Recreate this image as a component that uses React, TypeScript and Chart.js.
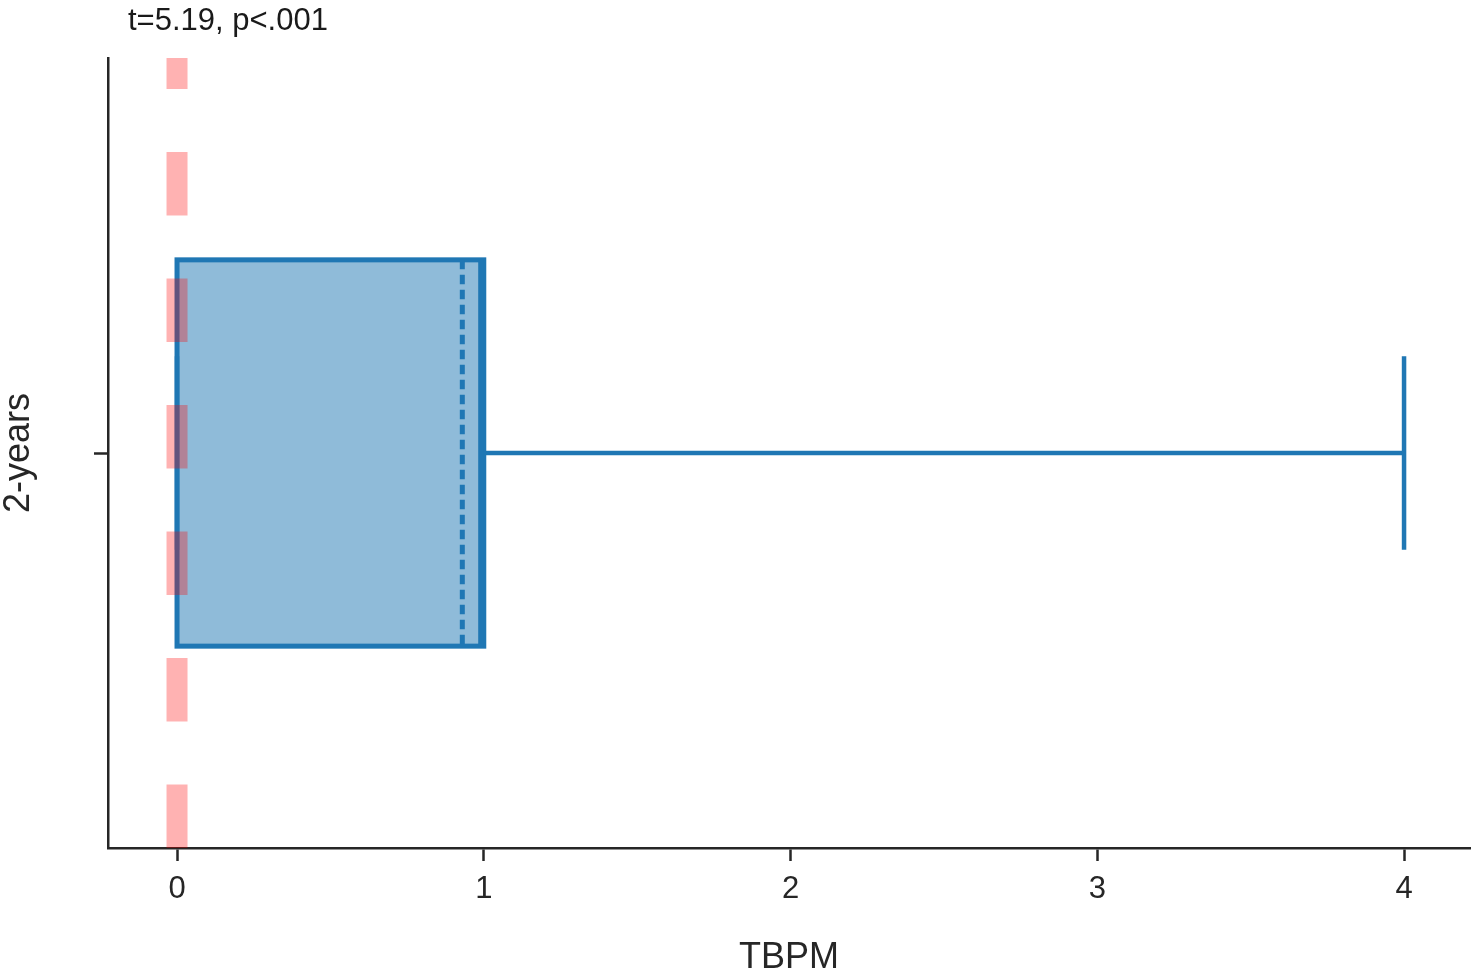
import React, { useEffect, useRef } from "react";
import { Chart, registerables } from "chart.js";

Chart.register(...registerables);

// ---- data ----
const categories = ["2-years"];
const q1Values = [0];
const q3Values = [1];
const medianValues = [0.99];
const meanValues = [0.93];
const whiskerLowValues = [0];
const whiskerHighValues = [4];
const referenceValue = 0;
const xTickValues = [0, 1, 2, 3, 4];
const xAxisLabel = "TBPM";
const yAxisLabel = "2-years";
const statsText = "t=5.19, p<.001";

const BLUE = "#1f77b4";
const FILL = "rgba(31,119,180,0.5)";
const PINK = "rgba(255,0,0,0.3)";
const AXIS = "#262626";
const FONT = "'Liberation Sans', Arial, Helvetica, sans-serif";
const BOX_FRACTION = 0.489;
const CAP_FRACTION = 0.245;

const boxPlugin = {
  id: "boxExtras",
  afterDatasetsDraw(chart: any) {
    const ctx = chart.ctx;
    const xs = chart.scales.x;
    const ys = chart.scales.y;
    const area = chart.chartArea;
    const band = (area.bottom - area.top) / categories.length;
    ctx.save();
    categories.forEach((_, i) => {
      const cy = ys.getPixelForValue(i);
      const half = (band * BOX_FRACTION) / 2;
      const capHalf = (band * CAP_FRACTION) / 2;
      const xq1 = xs.getPixelForValue(q1Values[i]);
      const xq3 = xs.getPixelForValue(q3Values[i]);
      const xlo = xs.getPixelForValue(whiskerLowValues[i]);
      const xhi = xs.getPixelForValue(whiskerHighValues[i]);
      const xmed = xs.getPixelForValue(medianValues[i]);
      const xmean = xs.getPixelForValue(meanValues[i]);
      ctx.strokeStyle = BLUE;
      ctx.lineCap = "butt";
      // whiskers
      ctx.lineWidth = 4.5;
      ctx.beginPath();
      ctx.moveTo(xq3, cy);
      ctx.lineTo(xhi, cy);
      ctx.moveTo(xq1, cy);
      ctx.lineTo(xlo, cy);
      ctx.stroke();
      // caps
      ctx.beginPath();
      ctx.moveTo(xhi, cy - capHalf);
      ctx.lineTo(xhi, cy + capHalf);
      ctx.moveTo(xlo, cy - capHalf);
      ctx.lineTo(xlo, cy + capHalf);
      ctx.stroke();
      // box border
      ctx.lineWidth = 5;
      ctx.strokeRect(xq1, cy - half, xq3 - xq1, 2 * half);
      // median
      ctx.beginPath();
      ctx.moveTo(xmed, cy - half);
      ctx.lineTo(xmed, cy + half);
      ctx.stroke();
      // mean (dashed)
      ctx.setLineDash([9.5, 5.5]);
      ctx.beginPath();
      ctx.moveTo(xmean, cy - half);
      ctx.lineTo(xmean, cy + half);
      ctx.stroke();
      ctx.setLineDash([]);
    });
    // reference dashed line
    const xr = xs.getPixelForValue(referenceValue);
    ctx.beginPath();
    ctx.rect(area.left, area.top, area.right - area.left, area.bottom - area.top);
    ctx.clip();
    ctx.strokeStyle = PINK;
    ctx.lineWidth = 21;
    ctx.setLineDash([63.5, 63]);
    ctx.beginPath();
    ctx.moveTo(xr, area.bottom);
    ctx.lineTo(xr, area.top);
    ctx.stroke();
    ctx.restore();

    // stats text
    ctx.save();
    ctx.fillStyle = "#1a1a1a";
    ctx.font = `31px ${FONT}`;
    ctx.textAlign = "left";
    ctx.textBaseline = "alphabetic";
    ctx.fillText(statsText, 128, 30);
    ctx.restore();
  },
};

export default function App() {
  const ref = useRef<HTMLCanvasElement | null>(null);
  useEffect(() => {
    if (!ref.current) return;
    const chart = new Chart(ref.current, {
      type: "bar",
      data: {
        labels: categories,
        datasets: [
          {
            data: categories.map((_, i) => [q1Values[i], q3Values[i]]) as any,
            backgroundColor: FILL,
            borderWidth: 0,
            barPercentage: BOX_FRACTION,
            categoryPercentage: 1,
          },
        ],
      },
      options: {
        indexAxis: "y",
        animation: false,
        responsive: false,
        devicePixelRatio: 1,
        layout: { padding: { top: 58, right: 8, left: 0, bottom: 0 } },
        plugins: { legend: { display: false }, tooltip: { enabled: false } },
        scales: {
          x: {
            type: "linear",
            min: -0.225,
            max: 4.215,
            afterBuildTicks: (scale: any) => {
              scale.ticks = xTickValues.map((v) => ({ value: v }));
            },
            afterFit: (scale: any) => {
              scale.height = 132;
            },
            grid: {
              display: true,
              drawOnChartArea: false,
              drawTicks: true,
              tickLength: 13,
              tickWidth: 2.5,
              tickColor: AXIS,
            },
            border: { display: true, color: AXIS, width: 2.5 },
            ticks: {
              color: AXIS,
              font: { family: FONT, size: 31 },
              padding: 10,
              maxRotation: 0,
              callback: (v: any) => String(v),
            },
            title: {
              display: true,
              text: xAxisLabel,
              color: AXIS,
              font: { family: FONT, size: 36, lineHeight: 1 },
              padding: { top: 0, bottom: 4 },
            },
          },
          y: {
            type: "category",
            afterFit: (scale: any) => {
              scale.width = 108;
            },
            grid: {
              display: true,
              offset: false,
              drawOnChartArea: false,
              drawTicks: true,
              tickLength: 14,
              tickWidth: 2.5,
              tickColor: AXIS,
            },
            border: { display: true, color: AXIS, width: 2.5 },
            ticks: { callback: () => "", padding: 0 },
            title: {
              display: true,
              text: yAxisLabel,
              color: AXIS,
              font: { family: FONT, size: 36, lineHeight: 1 },
              padding: { top: 1, bottom: 0 },
            },
          },
        },
      },
      plugins: [boxPlugin],
    });
    return () => chart.destroy();
  }, []);
  return (
    <div style={{ position: "fixed", left: 0, top: 0, width: 1478, height: 980, background: "#fff" }}>
      <canvas ref={ref} width={1478} height={980} />
    </div>
  );
}
